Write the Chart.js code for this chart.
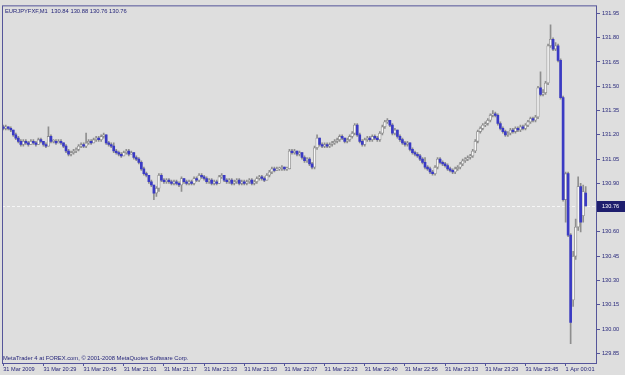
<!DOCTYPE html>
<html>
<head>
<meta charset="utf-8">
<title>EURJPYFXF,M1</title>
<script src="https://cdn.jsdelivr.net/npm/chart.js@4.4.0/dist/chart.umd.min.js"></script>
<style>
  html, body { margin: 0; padding: 0; background: #dedede; }
  #wrap { width: 625px; height: 375px; }
</style>
</head>
<body>
<div id="wrap"><canvas id="chart" width="625" height="375"></canvas></div>
<script>
const symbol = 'EURJPYFXF,M1';
const footerText = 'MetaTrader 4 at FOREX.com, \u00a9 2001-2008 MetaQuotes Software Corp.';

// one-minute bars
const opens = [
  131.25,131.24,131.25,131.24,131.23,131.20,131.18,131.16,131.14,131.16,
  131.15,131.14,131.16,131.15,131.14,131.17,131.16,131.14,131.13,131.19,
  131.16,131.16,131.15,131.16,131.15,131.13,131.10,131.08,131.09,131.10,
  131.11,131.13,131.14,131.13,131.15,131.16,131.15,131.17,131.18,131.17,
  131.19,131.20,131.15,131.14,131.13,131.10,131.09,131.08,131.07,131.09,
  131.10,131.08,131.09,131.06,131.05,131.03,130.99,130.96,130.95,130.91,
  130.89,130.84,130.87,130.95,130.92,130.91,130.92,130.91,130.90,130.91,
  130.90,130.89,130.93,130.91,130.90,130.91,130.90,130.93,130.92,130.95,
  130.94,130.93,130.91,130.92,130.90,130.91,130.90,130.94,130.95,130.92,
  130.91,130.92,130.90,130.91,130.92,130.90,130.91,130.90,130.91,130.92,
  130.90,130.91,130.93,130.94,130.93,130.92,130.95,130.97,130.99,130.98,
  130.99,130.99,131.00,130.99,130.99,131.10,131.09,131.10,131.08,131.09,
  131.06,131.04,131.05,131.02,131.00,131.12,131.18,131.14,131.13,131.14,
  131.13,131.14,131.15,131.16,131.17,131.19,131.18,131.16,131.17,131.19,
  131.21,131.26,131.20,131.16,131.14,131.17,131.18,131.17,131.19,131.18,
  131.17,131.21,131.25,131.28,131.29,131.26,131.21,131.23,131.19,131.17,
  131.15,131.14,131.15,131.11,131.09,131.08,131.07,131.05,131.03,131.00,
  130.99,130.97,130.96,131.00,131.05,131.03,131.02,131.01,130.99,130.98,
  130.97,130.99,131.00,131.02,131.04,131.05,131.06,131.07,131.10,131.16,
  131.22,131.24,131.26,131.27,131.29,131.32,131.33,131.32,131.27,131.24,
  131.22,131.20,131.21,131.23,131.22,131.24,131.23,131.25,131.24,131.26,
  131.28,131.30,131.29,131.31,131.49,131.45,131.46,131.52,131.75,131.79,
  131.73,131.75,131.66,131.43,130.80,130.96,130.58,130.18,130.45,130.63,
  130.88,130.70,130.84
];
const highs = [
  131.26,131.26,131.25,131.25,131.23,131.21,131.19,131.17,131.17,131.17,
  131.16,131.17,131.17,131.16,131.18,131.18,131.16,131.15,131.25,131.20,
  131.17,131.17,131.17,131.17,131.15,131.14,131.11,131.10,131.11,131.12,
  131.14,131.15,131.15,131.21,131.17,131.17,131.18,131.19,131.19,131.20,
  131.21,131.20,131.16,131.15,131.15,131.11,131.10,131.09,131.10,131.11,
  131.11,131.10,131.09,131.07,131.06,131.04,131.00,130.97,130.95,130.92,
  130.89,130.88,130.96,130.96,130.93,130.93,130.93,130.92,130.92,130.92,
  130.91,130.94,130.93,130.92,130.92,130.92,130.94,130.94,130.96,130.96,
  130.95,130.94,130.93,130.93,130.92,130.92,130.95,130.96,130.95,130.93,
  130.93,130.93,130.92,130.93,130.93,130.92,130.92,130.92,130.93,130.93,
  130.92,130.94,130.95,130.95,130.94,130.96,130.98,131.00,131.00,131.00,
  131.00,131.01,131.00,131.00,131.11,131.11,131.11,131.10,131.10,131.09,
  131.07,131.06,131.06,131.03,131.13,131.20,131.18,131.15,131.15,131.15,
  131.15,131.16,131.17,131.18,131.20,131.20,131.18,131.18,131.20,131.22,
  131.27,131.27,131.21,131.17,131.18,131.19,131.19,131.20,131.20,131.19,
  131.22,131.26,131.29,131.30,131.29,131.27,131.24,131.23,131.20,131.18,
  131.16,131.16,131.15,131.12,131.10,131.09,131.08,131.06,131.06,131.01,
  131.00,130.98,131.01,131.06,131.06,131.04,131.03,131.02,131.00,130.99,
  131.00,131.01,131.03,131.05,131.06,131.07,131.08,131.11,131.17,131.23,
  131.25,131.27,131.28,131.30,131.33,131.35,131.34,131.33,131.28,131.25,
  131.23,131.22,131.24,131.24,131.25,131.25,131.26,131.26,131.27,131.29,
  131.31,131.31,131.32,131.50,131.59,131.48,131.53,131.76,131.88,131.80,
  131.77,131.76,131.67,131.44,130.97,130.97,130.59,130.48,130.68,130.94,
  130.90,130.89,130.88
];
const lows = [
  131.23,131.23,131.23,131.22,131.19,131.17,131.15,131.13,131.13,131.14,
  131.13,131.14,131.14,131.13,131.14,131.15,131.13,131.12,131.13,131.15,
  131.15,131.14,131.15,131.14,131.12,131.09,131.07,131.07,131.08,131.09,
  131.10,131.12,131.12,131.12,131.14,131.14,131.15,131.16,131.16,131.16,
  131.18,131.14,131.13,131.12,131.09,131.08,131.07,131.06,131.07,131.08,
  131.07,131.08,131.05,131.04,131.02,130.98,130.95,130.94,130.90,130.88,
  130.80,130.82,130.85,130.91,130.90,130.90,130.90,130.89,130.89,130.89,
  130.88,130.85,130.90,130.89,130.89,130.89,130.89,130.91,130.91,130.93,
  130.92,130.90,130.90,130.89,130.89,130.89,130.90,130.93,130.91,130.90,
  130.90,130.89,130.89,130.90,130.89,130.89,130.89,130.89,130.90,130.89,
  130.89,130.90,130.92,130.92,130.91,130.92,130.94,130.96,130.97,130.98,
  130.98,130.98,130.98,130.98,130.99,131.08,131.08,131.07,131.07,131.05,
  131.03,131.03,131.01,130.99,130.99,131.11,131.13,131.12,131.12,131.12,
  131.12,131.13,131.14,131.15,131.16,131.17,131.15,131.15,131.16,131.18,
  131.20,131.19,131.15,131.13,131.13,131.16,131.16,131.16,131.17,131.16,
  131.16,131.20,131.24,131.27,131.25,131.20,131.20,131.18,131.16,131.14,
  131.13,131.13,131.10,131.08,131.07,131.06,131.04,131.02,130.99,130.98,
  130.96,130.95,130.95,130.99,131.02,131.01,131.00,130.98,130.97,130.96,
  130.96,130.98,130.99,131.01,131.03,131.04,131.05,131.06,131.09,131.15,
  131.21,131.23,131.25,131.26,131.28,131.31,131.31,131.26,131.23,131.21,
  131.19,131.19,131.20,131.21,131.21,131.22,131.22,131.23,131.23,131.25,
  131.27,131.28,131.28,131.30,131.44,131.44,131.45,131.51,131.74,131.72,
  131.72,131.65,131.42,130.79,130.66,130.57,129.91,130.14,130.43,130.61,
  130.60,130.66,130.76
];
const closes = [
  131.24,131.25,131.24,131.23,131.20,131.18,131.16,131.14,131.16,131.15,
  131.14,131.16,131.15,131.14,131.17,131.16,131.14,131.13,131.19,131.16,
  131.16,131.15,131.16,131.15,131.13,131.10,131.08,131.09,131.10,131.11,
  131.13,131.14,131.13,131.15,131.16,131.15,131.17,131.18,131.17,131.19,
  131.20,131.15,131.14,131.13,131.10,131.09,131.08,131.07,131.09,131.10,
  131.08,131.09,131.06,131.05,131.03,130.99,130.96,130.95,130.91,130.89,
  130.84,130.87,130.95,130.92,130.91,130.92,130.91,130.90,130.91,130.90,
  130.89,130.93,130.91,130.90,130.91,130.90,130.93,130.92,130.95,130.94,
  130.93,130.91,130.92,130.90,130.91,130.90,130.94,130.95,130.92,130.91,
  130.92,130.90,130.91,130.92,130.90,130.91,130.90,130.91,130.92,130.90,
  130.91,130.93,130.94,130.93,130.92,130.95,130.97,130.99,130.98,130.99,
  130.99,131.00,130.99,130.99,131.10,131.09,131.10,131.08,131.09,131.06,
  131.04,131.05,131.02,131.00,131.12,131.18,131.14,131.13,131.14,131.13,
  131.14,131.15,131.16,131.17,131.19,131.18,131.16,131.17,131.19,131.21,
  131.26,131.20,131.16,131.14,131.17,131.18,131.17,131.19,131.18,131.17,
  131.21,131.25,131.28,131.29,131.26,131.21,131.23,131.19,131.17,131.15,
  131.14,131.15,131.11,131.09,131.08,131.07,131.05,131.03,131.00,130.99,
  130.97,130.96,131.00,131.05,131.03,131.02,131.01,130.99,130.98,130.97,
  130.99,131.00,131.02,131.04,131.05,131.06,131.07,131.10,131.16,131.22,
  131.24,131.26,131.27,131.29,131.32,131.33,131.32,131.27,131.24,131.22,
  131.20,131.21,131.23,131.22,131.24,131.23,131.25,131.24,131.26,131.28,
  131.30,131.29,131.31,131.49,131.45,131.46,131.52,131.75,131.79,131.73,
  131.75,131.66,131.43,130.80,130.96,130.58,130.04,130.45,130.63,130.88,
  130.66,130.85,130.76
];

// time axis labels, one every 16 bars
const timeLabels = [
  '31 Mar 2009', '31 Mar 20:29', '31 Mar 20:45', '31 Mar 21:01', '31 Mar 21:17',
  '31 Mar 21:33', '31 Mar 21:50', '31 Mar 22:07', '31 Mar 22:23', '31 Mar 22:40',
  '31 Mar 22:56', '31 Mar 23:13', '31 Mar 23:29', '31 Mar 23:45', '1 Apr 00:01'
];
const labelEvery = 16;
const priceTicks = [129.85, 130.00, 130.15, 130.30, 130.45, 130.60, 130.90,
  131.05, 131.20, 131.35, 131.50, 131.65, 131.80, 131.95];
const rightShift = 4; // empty slots after the last bar

const FRAME = '#55559a';
const TEXT = '#26267a';
const BEAR = '#3a3ac4';
const BULL_EDGE = '#8e8e8e';
const WICK = '#8e8e8e';

const slotCount = closes.length + rightShift;
const categories = [];
for (let i = 0; i < slotCount; i++) {
  const k = i / labelEvery;
  categories.push(i % labelEvery === 0 && k < timeLabels.length ? timeLabels[k] : '');
}

const isBear = closes.map((c, i) => c < opens[i]);

Chart.defaults.font.family = "'Liberation Sans', Arial, sans-serif";
Chart.defaults.font.size = 5.6;
Chart.defaults.color = TEXT;

const mt4Decor = {
  id: 'mt4Decor',
  beforeDraw(chart) {
    const ctx = chart.ctx;
    ctx.save();
    ctx.fillStyle = '#dedede';
    ctx.fillRect(0, 0, chart.width, chart.height);
    ctx.restore();
  },
  beforeDatasetsDraw(chart) {
    const { ctx, chartArea: ca, scales } = chart;
    const last = closes[closes.length - 1];
    const y = Math.round(scales.y.getPixelForValue(last)) + 0.5;
    ctx.save();
    ctx.strokeStyle = '#f6f6f6';
    ctx.lineWidth = 1;
    ctx.setLineDash([3, 2]);
    ctx.beginPath();
    ctx.moveTo(ca.left, y);
    ctx.lineTo(ca.right, y);
    ctx.stroke();
    ctx.restore();
  },
  afterDraw(chart) {
    const { ctx, chartArea: ca, scales } = chart;
    const n = closes.length - 1;
    ctx.save();
    ctx.strokeStyle = FRAME;
    ctx.lineWidth = 1;
    ctx.strokeRect(ca.left + 0.5, ca.top + 0.5, ca.right - ca.left - 1, ca.bottom - ca.top);

    ctx.font = "5.8px 'Liberation Sans', Arial, sans-serif";
    ctx.fillStyle = TEXT;
    ctx.textBaseline = 'top';
    const head = symbol + '  ' + [opens[n], highs[n], lows[n], closes[n]].map(v => v.toFixed(2)).join(' ');
    ctx.fillText(head, ca.left + 3, ca.top + 3);

    ctx.textBaseline = 'bottom';
    ctx.fillText(footerText, ca.left + 1, ca.bottom - 2);

    // current price box on the price scale
    const y = Math.round(scales.y.getPixelForValue(closes[n]));
    ctx.fillStyle = '#1e1e6e';
    ctx.fillRect(ca.right, y - 5, chart.width - ca.right, 11);
    ctx.fillStyle = '#ffffff';
    ctx.textBaseline = 'middle';
    ctx.font = "5.6px 'Liberation Sans', Arial, sans-serif";
    ctx.fillText(closes[n].toFixed(2), ca.right + 5, y + 0.5);
    ctx.restore();
  }
};

new Chart(document.getElementById('chart'), {
  type: 'bar',
  data: {
    labels: categories,
    datasets: [{
      label: 'bear bodies',
      data: opens.map((o, i) => isBear[i] ? [o, closes[i]] : null),
      backgroundColor: BEAR,
      borderWidth: 0,
      barThickness: 2,
      grouped: false,
      order: 1
    }, {
      label: 'bull bodies',
      data: opens.map((o, i) => isBear[i] ? null : [o, closes[i]]),
      backgroundColor: '#f7f7f7',
      borderColor: BULL_EDGE,
      borderWidth: 0.8,
      borderSkipped: false,
      barThickness: 2.6,
      minBarLength: 1,
      grouped: false,
      order: 2
    }, {
      label: 'wicks',
      data: lows.map((l, i) => [l, highs[i]]),
      backgroundColor: WICK,
      borderWidth: 0,
      barThickness: 1,
      grouped: false,
      order: 3
    }]
  },
  options: {
    responsive: false,
    animation: false,
    layout: { padding: { left: 2, top: 2, right: 0, bottom: 0 } },
    plugins: {
      legend: { display: false },
      tooltip: { enabled: false }
    },
    scales: {
      x: {
        type: 'category',
        offset: true,
        grid: { display: true, drawOnChartArea: false, offset: false, tickLength: 3, color: FRAME },
        border: { display: false },
        ticks: { autoSkip: false, maxRotation: 0, align: 'start', padding: 0 },
        afterBuildTicks(scale) {
          scale.ticks = scale.ticks.filter(t => categories[t.value] !== '');
        },
        afterFit(scale) { scale.height = 12; }
      },
      y: {
        type: 'linear',
        position: 'right',
        min: 129.79,
        max: 132.0,
        grid: { display: true, drawOnChartArea: false, tickLength: 3, color: FRAME },
        border: { display: false },
        ticks: { padding: 2, callback: v => v.toFixed(2) },
        afterBuildTicks(scale) {
          scale.ticks = priceTicks.map(v => ({ value: v }));
        },
        afterFit(scale) { scale.width = 28; }
      }
    }
  },
  plugins: [mt4Decor]
});
</script>
</body>
</html>
